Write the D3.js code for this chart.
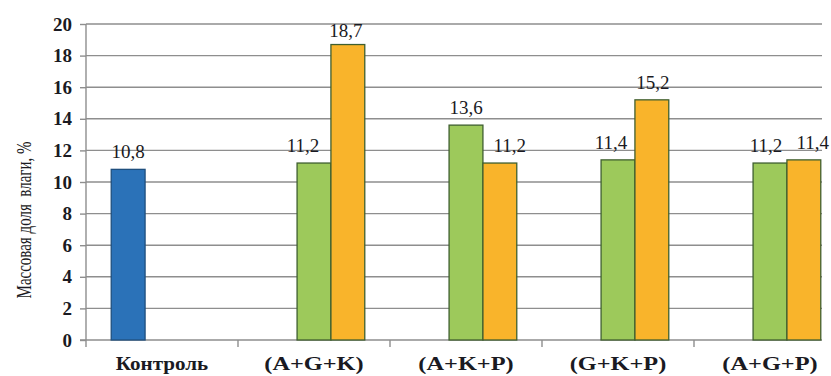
<!DOCTYPE html>
<html>
<head>
<meta charset="utf-8">
<script src="https://cdn.jsdelivr.net/npm/d3@7"></script>
<style>
  html, body { margin: 0; padding: 0; background: #fff; }
  svg { display: block; }
</style>
</head>
<body>
<svg id="chart" width="831" height="376"></svg>
<script>
// Moisture mass fraction by treatment
const categories = ["Контроль", "(A+G+K)", "(A+K+P)", "(G+K+P)", "(A+G+P)"];
const seriesNames = ["control", "s1", "s2"];
const controlValues = [10.8, null, null, null, null];
const series1Values = [null, 11.2, 13.6, 11.4, 11.2];
const series2Values = [null, 18.7, 11.2, 15.2, 11.4];
const yTicks = [0, 2, 4, 6, 8, 10, 12, 14, 16, 18, 20];
const yTitle = "Массовая доля  влаги, %";

const fills = { control: "#2b72b8", s1: "#9dc95b", s2: "#f9b42b" };
const strokes = { control: "#1f4f7e", s1: "#3f5f2f", s2: "#3f5f2f" };

// horizontal nudges for value labels that would otherwise collide
const labelDx = {
  control: [0, 0, 0, 0, 0],
  s1: [0, -11, 0, -7, -4],
  s2: [0, -2, 10, 1, 9]
};
const labelDy = {
  control: [0, 0, 0, 0, 0],
  s1: [0, 0, 0, 0, 0],
  s2: [0, 3, 0, 0, 0]
};

const svg = d3.select("#chart");
const plotLeft = 86, bandRight = 846, gridRight = 822, plotTop = 24, plotBottom = 340;
const serif = "'Times New Roman', 'Liberation Serif', serif";
const ink = "#1a1a22", axisGray = "#8e8e8e";

const x0 = d3.scaleBand().domain(categories).range([plotLeft, bandRight]).paddingInner(0).paddingOuter(0);
const x1 = d3.scaleBand().domain(seriesNames).range([0, x0.bandwidth()]).paddingInner(0).paddingOuter(0.745);
const y = d3.scaleLinear().domain([0, 20]).range([plotBottom, plotTop]);

// gridlines
svg.append("g").selectAll("line").data(yTicks.filter(t => t > 0)).join("line")
  .attr("x1", plotLeft).attr("x2", gridRight)
  .attr("y1", d => y(d)).attr("y2", d => y(d))
  .attr("stroke", axisGray).attr("stroke-width", 1.4);

// y axis
const yAxis = svg.append("g").attr("transform", `translate(${plotLeft},0)`)
  .call(d3.axisLeft(y).tickValues(yTicks).tickSize(6).tickPadding(8).tickSizeOuter(0));
yAxis.select(".domain").attr("stroke", axisGray).attr("stroke-width", 1.4)
  .attr("d", `M0,${plotTop}V${plotBottom + 7}`);
yAxis.selectAll(".tick line").attr("stroke", axisGray).attr("stroke-width", 1.4);
yAxis.selectAll(".tick text")
  .style("font-family", serif)
  .style("font-size", "19px").style("font-weight", "bold").attr("fill", ink);

// x axis
const xAxis = svg.append("g").attr("transform", `translate(0,${plotBottom})`);
xAxis.append("line").attr("x1", plotLeft - 6).attr("x2", gridRight)
  .attr("y1", 0).attr("y2", 0).attr("stroke", axisGray).attr("stroke-width", 1.4);
xAxis.selectAll("line.cat").data(categories.slice(1)).join("line").attr("class", "cat")
  .attr("x1", d => x0(d)).attr("x2", d => x0(d)).attr("y1", 0).attr("y2", 7)
  .attr("stroke", axisGray).attr("stroke-width", 1.4);
xAxis.selectAll("text").data(categories).join("text")
  .attr("x", d => x0(d) + x0.bandwidth() / 2)
  .attr("y", 30)
  .attr("text-anchor", "middle")
  .style("font-family", serif)
  .style("font-size", "19px").style("font-weight", "bold").attr("fill", ink)
  .text(d => d)
  .each(function (d) {
    // category labels are set wider than the plain face; formulas more so
    const stretch = d.includes("+") ? 1.28 : 1.11;
    this.setAttribute("textLength", (this.getComputedTextLength() * stretch).toFixed(1));
    this.setAttribute("lengthAdjust", "spacingAndGlyphs");
  });

// bars
const seriesData = [
  { key: "control", values: controlValues },
  { key: "s1", values: series1Values },
  { key: "s2", values: series2Values }
];
const cells = [];
seriesData.forEach(s => s.values.forEach((v, i) => {
  if (v !== null) cells.push({ key: s.key, cat: categories[i], i, value: v });
}));

svg.append("g").selectAll("rect").data(cells).join("rect")
  .attr("x", d => x0(d.cat) + x1(d.key))
  .attr("y", d => y(d.value))
  .attr("width", x1.bandwidth())
  .attr("height", d => y(0) - y(d.value))
  .attr("fill", d => fills[d.key])
  .attr("stroke", d => strokes[d.key])
  .attr("stroke-width", 1.3);

// value labels
svg.append("g").selectAll("text").data(cells).join("text")
  .attr("x", d => x0(d.cat) + x1(d.key) + x1.bandwidth() / 2 + labelDx[d.key][d.i])
  .attr("y", d => y(d.value) - 11 + labelDy[d.key][d.i])
  .attr("text-anchor", "middle")
  .style("font-family", serif)
  .style("font-size", "19px").attr("fill", ink)
  .text(d => d3.format(".1f")(d.value).replace(".", ","));

// y title
svg.append("text")
  .attr("transform", "translate(31,220) rotate(-90) scale(1,1.4)")
  .attr("text-anchor", "middle")
  .style("font-family", serif)
  .style("font-size", "15px").attr("fill", ink)
  .style("white-space", "pre")
  .text(yTitle);
</script>
</body>
</html>
